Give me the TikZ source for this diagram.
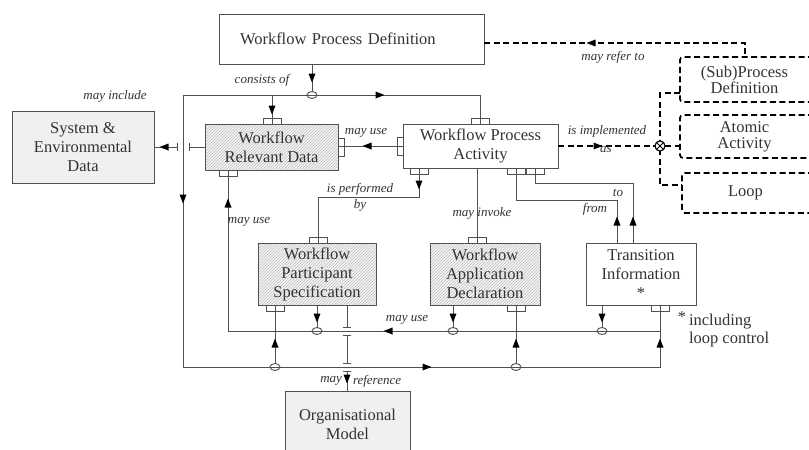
\documentclass[tikz,border=0pt]{standalone}
\usepackage{fontspec}
\setmainfont{Liberation Serif}
\usetikzlibrary{patterns,arrows.meta,calc,shapes.geometric}
\definecolor{lc}{HTML}{505050}
\definecolor{tc}{HTML}{333333}
\newcommand\aD[2]{\fill[black] (#1-3.5,#2-4.5) -- (#1+3.5,#2-4.5) -- (#1,#2+4.5) -- cycle;}
\newcommand\aU[2]{\fill[black] (#1-3.5,#2+4.5) -- (#1+3.5,#2+4.5) -- (#1,#2-4.5) -- cycle;}
\newcommand\aL[2]{\fill[black] (#1+4.5,#2-3.5) -- (#1+4.5,#2+3.5) -- (#1-4.5,#2) -- cycle;}
\newcommand\aR[2]{\fill[black] (#1-4.5,#2-3.5) -- (#1-4.5,#2+3.5) -- (#1+4.5,#2) -- cycle;}
\newcommand\tkH[1]{\draw[ln] ($(#1)+(-4,0)$) -- ($(#1)+(4,0)$);}
\newcommand\tkV[1]{\draw[ln] ($(#1)+(0,-4)$) -- ($(#1)+(0,4)$);}
\begin{document}
\begin{tikzpicture}[x=1pt,y=-1pt,
  every node/.style={inner sep=0pt, outer sep=0pt},
  box/.style={draw=lc, line width=1pt, align=center, text=tc, font=\fontsize{16.5}{19}\selectfont},
  greybox/.style={box, fill=gray!12},
  hatchbox/.style={box, preaction={fill=gray!8}, pattern=north east lines, pattern color=gray!50},
  dtxt/.style={align=center, text=tc, font=\fontsize{16.5}{16}\selectfont},
  dsh/.style={draw=black, line width=1.8pt, dash pattern=on 6pt off 3.5pt},
  ln/.style={draw=lc, line width=1pt},
  jn/.style={ellipse, draw=lc, line width=0.9pt, minimum width=10pt, minimum height=7pt},
  tabh/.style={draw=lc, line width=0.9pt, minimum width=18pt, minimum height=6pt},
  tabv/.style={draw=lc, line width=0.9pt, minimum width=6pt, minimum height=18pt},
  lab/.style={font=\fontsize{13}{15}\selectfont\itshape, text=tc},
  note/.style={font=\fontsize{16.5}{18}\selectfont, text=tc, align=left}
]
\useasboundingbox (0,0) rectangle (809,450);
\fill[white] (0,0) rectangle (809,450);

% ---------- boxes ----------
\node[box, minimum width=265, minimum height=50, text width=223, align=left] (wpd) at (351.5,39) {Workflow Process Definition};
\node[hatchbox, minimum width=133, minimum height=46] (wrd) at (271.5,147) {Workflow\\Relevant Data};
\node[box, minimum width=155, minimum height=44] (wpa) at (480.5,146) {Workflow Process\\Activity};
\node[greybox, minimum width=142, minimum height=72] (sed) at (83,147) {System \&\\Environmental\\Data};
\node[hatchbox, minimum width=118, minimum height=62] (wps) at (317,274) {Workflow\\Participant\\Specification};
\node[hatchbox, minimum width=110, minimum height=62] (wad) at (485,274) {Workflow\\Application\\Declaration};
\node[box, minimum width=110, minimum height=62] (ti) at (641,274) {Transition\\Information\\*};
\node[greybox, minimum width=125, minimum height=66] (org) at (347.5,424) {Organisational\\Model};

% dashed boxes (open to the right edge)
\node[dtxt, minimum width=129, minimum height=45] (sub) at (744.5,79.5) {(Sub)Process\\Definition};
\node[dtxt, minimum width=129, minimum height=43] (atom) at (744.5,136.5) {Atomic\\Activity};
\node[dtxt, minimum width=127, minimum height=40] (loop) at (745.5,193) {Loop};
\draw[dsh, rounded corners=3] ($(sub.north east)+(5,0)$) -- (sub.north west) -- (sub.south west) -- ($(sub.south east)+(5,0)$);
\draw[dsh, rounded corners=3] ($(atom.north east)+(5,0)$) -- (atom.north west) -- (atom.south west) -- ($(atom.south east)+(5,0)$);
\draw[dsh, rounded corners=3] ($(loop.north east)+(5,0)$) -- (loop.north west) -- (loop.south west) -- ($(loop.south east)+(5,0)$);

% ---------- dashed connectors ----------
\coordinate (r1) at (745,43);
\draw[dsh] (r1 -| wpd.east) -- (r1) -- (r1 |- sub.north);
\aL{591}{43}
\node[circle, draw=black, line width=1pt, minimum size=10pt] (cx) at (660,146) {};
\coordinate (d1) at (660,93);
\coordinate (d2) at (660,185);
\draw[dsh] (d1 -| sub.west) -- (d1) -- (d2) -- (d2 -| loop.west);
\draw[dsh] (cx.east) -- (cx -| atom.west);
\draw[dsh] (wpa.east) -- (cx.west);
\aR{598}{146}
\node[circle, fill=white, draw=black, line width=1pt, minimum size=10pt] at (cx) {};
\draw[black, line width=0.8pt] (cx.north west) -- (cx.south east) (cx.north east) -- (cx.south west);

% ---------- consists of ----------
\node[jn] (c1) at (312,95) {};
\coordinate (k0) at (480,95);
\coordinate (k1) at (183,95);
\coordinate (k2) at (183,367);
\coordinate (k3) at (660,367);
\coordinate (k4) at (272,95);
\draw[ln] (wpa.north -| k0) -- (k0) -- (k1) -- (k2) -- (k3) -- (k3 |- ti.south);
\draw[ln] (c1 |- wpd.south) -- (c1.north);
\aD{312}{78}
\draw[ln] (k4) -- (k4 |- wrd.north);
\aD{272}{110}
\aR{380}{95}
\aD{183}{199}
\aR{427}{367}
\aU{660}{343}
\node[jn] (c5) at (275,367) {};
\node[jn] (c6) at (516,367) {};
\draw[ln] (c5.north) -- (c5 |- wps.south);
\aU{275}{343}
\draw[ln] (c6.north) -- (c6 |- wad.south);
\aU{516}{343}

% ---------- may use (bottom) ----------
\coordinate (m1) at (660,331);
\coordinate (m2) at (228,331);
\draw[ln] (m1) -- (m2) -- (m2 |- wrd.south);
\aL{388}{331}
\aU{228}{203}
\node[jn] (c2) at (317,331) {};
\node[jn] (c3) at (453,331) {};
\node[jn] (c4) at (602,331) {};
\draw[ln] (c2 |- wps.south) -- (c2.north);
\aD{317}{318}
\draw[ln] (c3 |- wad.south) -- (c3.north);
\aD{453}{318}
\draw[ln] (c4 |- ti.south) -- (c4.north);
\aD{602}{318}

% ---------- WPA -> WRD may use ----------
\draw[ln] (wpa.west) -- (wpa.west -| wrd.east);
\aL{367}{146}

% ---------- is performed by ----------
\coordinate (p1) at (419,197);
\coordinate (p2) at (318,197);
\draw[ln] (p1 |- wpa.south) -- (p1) -- (p2) -- (p2 |- wps.north);
\aD{419}{185}

% ---------- may invoke ----------
\coordinate (v1) at (477,200);
\draw[ln] (v1 |- wpa.south) -- (v1 |- wad.north);

% ---------- from / to ----------
\coordinate (f1) at (617,200);
\coordinate (f2) at (516,200);
\draw[ln] (f1 |- ti.north) -- (f1) -- (f2) -- (f2 |- wpa.south);
\aU{617}{221}
\coordinate (t1) at (633,183);
\coordinate (t2) at (535,183);
\draw[ln] (t1 |- ti.north) -- (t1) -- (t2) -- (t2 |- wpa.south);
\aU{633}{221}

% ---------- may include ----------
\coordinate (i1) at (189,147);
\coordinate (i2) at (177,147);
\draw[ln] (wrd.west |- i1) -- (i1);
\draw[ln] (i2) -- (i2 -| sed.east);
\tkV{i1}
\tkV{i2}
\aL{164}{147}

% ---------- may reference ----------
\coordinate (q1) at (347,327);
\coordinate (q2) at (347,335);
\coordinate (q3) at (347,363);
\coordinate (q4) at (347,371);
\draw[ln] (q1 |- wps.south) -- (q1);
\draw[ln] (q2) -- (q3);
\draw[ln] (q4) -- (q4 |- org.north);
\tkH{q1}
\tkH{q2}
\tkH{q3}
\tkH{q4}
\aD{347}{379}

% ---------- tabs ----------
\node[tabh, anchor=south] at (272,124) {};
\node[tabh, anchor=south] at (480,124) {};
\node[tabh, anchor=south] at (318,243) {};
\node[tabh, anchor=south] at (477,243) {};
\node[tabh, anchor=north] at (228,170) {};
\node[tabh, anchor=north] at (419,168) {};
\node[tabh, anchor=north] at (516,168) {};
\node[tabh, anchor=north] at (535,168) {};
\node[tabh, anchor=north] at (275,305) {};
\node[tabh, anchor=north] at (516,305) {};
\node[tabh, anchor=north] at (660,305) {};
\node[tabv, anchor=east] at (wpa.west) {};
\node[tabv, anchor=west] at (wrd.east) {};

% ---------- labels ----------
\node[lab] at (262,80) {consists of};
\node[lab] at (115,96) {may include};
\node[lab] at (613,57) {may refer to};
\node[lab] at (366,133) {may use};
\node[lab] at (607,131) {is implemented};
\node[lab] at (606,150) {as};
\node[lab] at (360,189) {is performed};
\node[lab] at (360,205) {by};
\node[lab] at (482,213) {may invoke};
\node[lab] at (595,209) {from};
\node[lab] at (618,193) {to};
\node[lab] at (249,222) {may use};
\node[lab] at (407,320) {may use};
\node[lab, anchor=east] at (342,381) {may};
\node[lab, anchor=west] at (353,381) {reference};

% note
\node[note, anchor=north west] (nt) at (689,314) {including\\loop control};
\node[note, anchor=north east] at (686,312) {*};
\end{tikzpicture}
\end{document}
